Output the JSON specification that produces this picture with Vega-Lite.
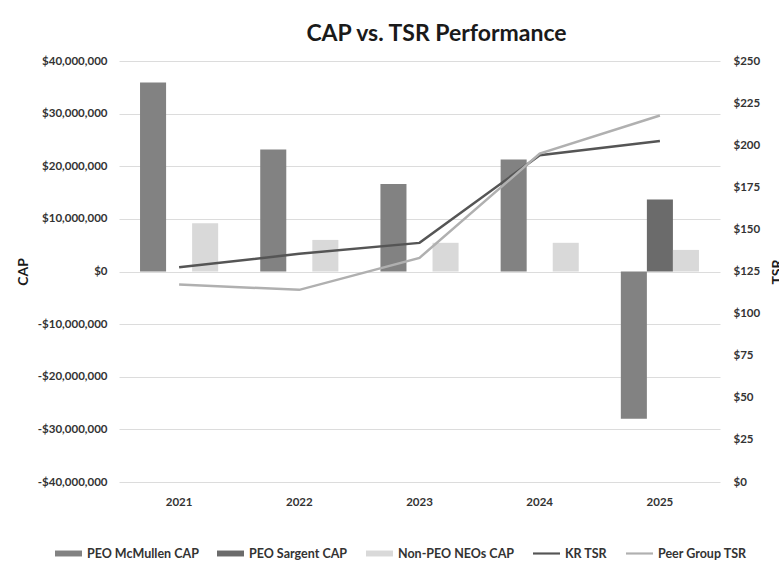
{
  "$schema": "https://vega.github.io/schema/vega-lite/v6.json",
  "width": 601,
  "height": 421,
  "autosize": "none",
  "padding": {"left": 119, "top": 61, "right": 59, "bottom": 91},
  "background": "white",
  "title": {"text": "CAP vs. TSR Performance", "font": "Lato", "fontSize": 23, "fontWeight": "bold", "color": "#1a1a1a", "anchor": "middle", "dx": 17, "offset": 9},
  "config": {"view": {"stroke": null}, "font": "Lato"},
  "datasets": {
    "cap": [
      {"year": "2021", "series": "PEO McMullen CAP", "cap": 35900000},
      {"year": "2021", "series": "Non-PEO NEOs CAP", "cap": 9150000},
      {"year": "2022", "series": "PEO McMullen CAP", "cap": 23200000},
      {"year": "2022", "series": "Non-PEO NEOs CAP", "cap": 6000000},
      {"year": "2023", "series": "PEO McMullen CAP", "cap": 16650000},
      {"year": "2023", "series": "Non-PEO NEOs CAP", "cap": 5450000},
      {"year": "2024", "series": "PEO McMullen CAP", "cap": 21300000},
      {"year": "2024", "series": "Non-PEO NEOs CAP", "cap": 5450000},
      {"year": "2025", "series": "PEO McMullen CAP", "cap": -28000000},
      {"year": "2025", "series": "PEO Sargent CAP", "cap": 13700000},
      {"year": "2025", "series": "Non-PEO NEOs CAP", "cap": 4100000}
    ],
    "tsr": [
      {"year": "2021", "series": "KR TSR", "tsr": 127.5},
      {"year": "2022", "series": "KR TSR", "tsr": 135.5},
      {"year": "2023", "series": "KR TSR", "tsr": 142},
      {"year": "2024", "series": "KR TSR", "tsr": 194},
      {"year": "2025", "series": "KR TSR", "tsr": 202.5},
      {"year": "2021", "series": "Peer Group TSR", "tsr": 117.3},
      {"year": "2022", "series": "Peer Group TSR", "tsr": 114.1},
      {"year": "2023", "series": "Peer Group TSR", "tsr": 133.1},
      {"year": "2024", "series": "Peer Group TSR", "tsr": 195},
      {"year": "2025", "series": "Peer Group TSR", "tsr": 217.6}
    ]
  },
  "encoding": {
    "x": {
      "field": "year",
      "type": "ordinal",
      "scale": {"domain": ["2021", "2022", "2023", "2024", "2025"], "paddingInner": 0.35, "paddingOuter": 0.175},
      "axis": {"title": null, "labelAngle": 0, "domain": false, "ticks": false, "labelPadding": 14, "labelFontSize": 11.5, "labelFontWeight": "bold", "labelColor": "#333333", "labelFont": "Lato"}
    },
    "color": {
      "field": "series",
      "type": "nominal",
      "scale": {
        "domain": ["PEO McMullen CAP", "PEO Sargent CAP", "Non-PEO NEOs CAP", "KR TSR", "Peer Group TSR"],
        "range": ["#828282", "#6b6b6b", "#d9d9d9", "#555555", "#b0b0b0"]
      },
      "legend": {
        "title": null,
        "orient": "none",
        "direction": "horizontal",
        "legendX": -64,
        "legendY": 479,
        "labelFont": "Lato",
        "labelFontSize": 12.5,
        "labelFontWeight": "bold",
        "labelColor": "#333333",
        "labelOffset": 5,
        "columnPadding": 18,
        "symbolSize": 729,
        "symbolStrokeWidth": 0,
        "encode": {
          "symbols": {
            "update": {
              "fill": {"scale": "color", "field": "value"},
              "stroke": {"value": "transparent"},
              "opacity": {"value": 1},
              "fillOpacity": {"value": 1},
              "shape": {"signal": "indexof(['KR TSR','Peer Group TSR'], datum.value) >= 0 ? 'M-1,-0.08H1V0.08H-1Z' : 'M-1,-0.22H1V0.22H-1Z'"}
            }
          }
        }
      }
    }
  },
  "layer": [
    {
      "data": {"name": "cap"},
      "mark": {"type": "bar"},
      "encoding": {
        "xOffset": {"field": "series", "type": "nominal", "scale": {"domain": ["PEO McMullen CAP", "PEO Sargent CAP", "Non-PEO NEOs CAP"], "paddingInner": 0, "paddingOuter": 0}},
        "y": {
          "field": "cap",
          "type": "quantitative",
          "scale": {"domain": [-40000000, 40000000], "nice": false},
          "axis": {
            "values": [-40000000, -30000000, -20000000, -10000000, 0, 10000000, 20000000, 30000000, 40000000],
            "labelExpr": "(datum.value < 0 ? '-' : '') + '$' + format(abs(datum.value), ',.0f')",
            "grid": true,
            "gridColor": "#dcdcdc",
            "gridWidth": 1,
            "domain": false,
            "ticks": false,
            "labelPadding": 12,
            "labelFont": "Lato",
            "labelFontSize": 11.5,
            "labelFontWeight": "bold",
            "labelColor": "#333333",
            "title": "CAP",
            "titleFont": "Lato",
            "titleFontSize": 14,
            "titleFontWeight": "bold",
            "titleColor": "#1a1a1a",
            "titlePadding": 7
          }
        }
      }
    },
    {
      "data": {"name": "tsr"},
      "mark": {"type": "line", "strokeWidth": 2.5},
      "encoding": {
        "y": {
          "field": "tsr",
          "type": "quantitative",
          "scale": {"domain": [0, 250], "nice": false},
          "axis": {
            "orient": "right",
            "values": [0, 25, 50, 75, 100, 125, 150, 175, 200, 225, 250],
            "labelExpr": "'$' + datum.value",
            "grid": false,
            "domain": false,
            "ticks": false,
            "labelPadding": 13,
            "labelFont": "Lato",
            "labelFontSize": 11.5,
            "labelFontWeight": "bold",
            "labelColor": "#333333",
            "title": "TSR",
            "titleAngle": -90,
            "titleFont": "Lato",
            "titleFontSize": 14,
            "titleFontWeight": "bold",
            "titleColor": "#1a1a1a",
            "titlePadding": 25
          }
        }
      }
    }
  ],
  "resolve": {"scale": {"y": "independent"}}
}
